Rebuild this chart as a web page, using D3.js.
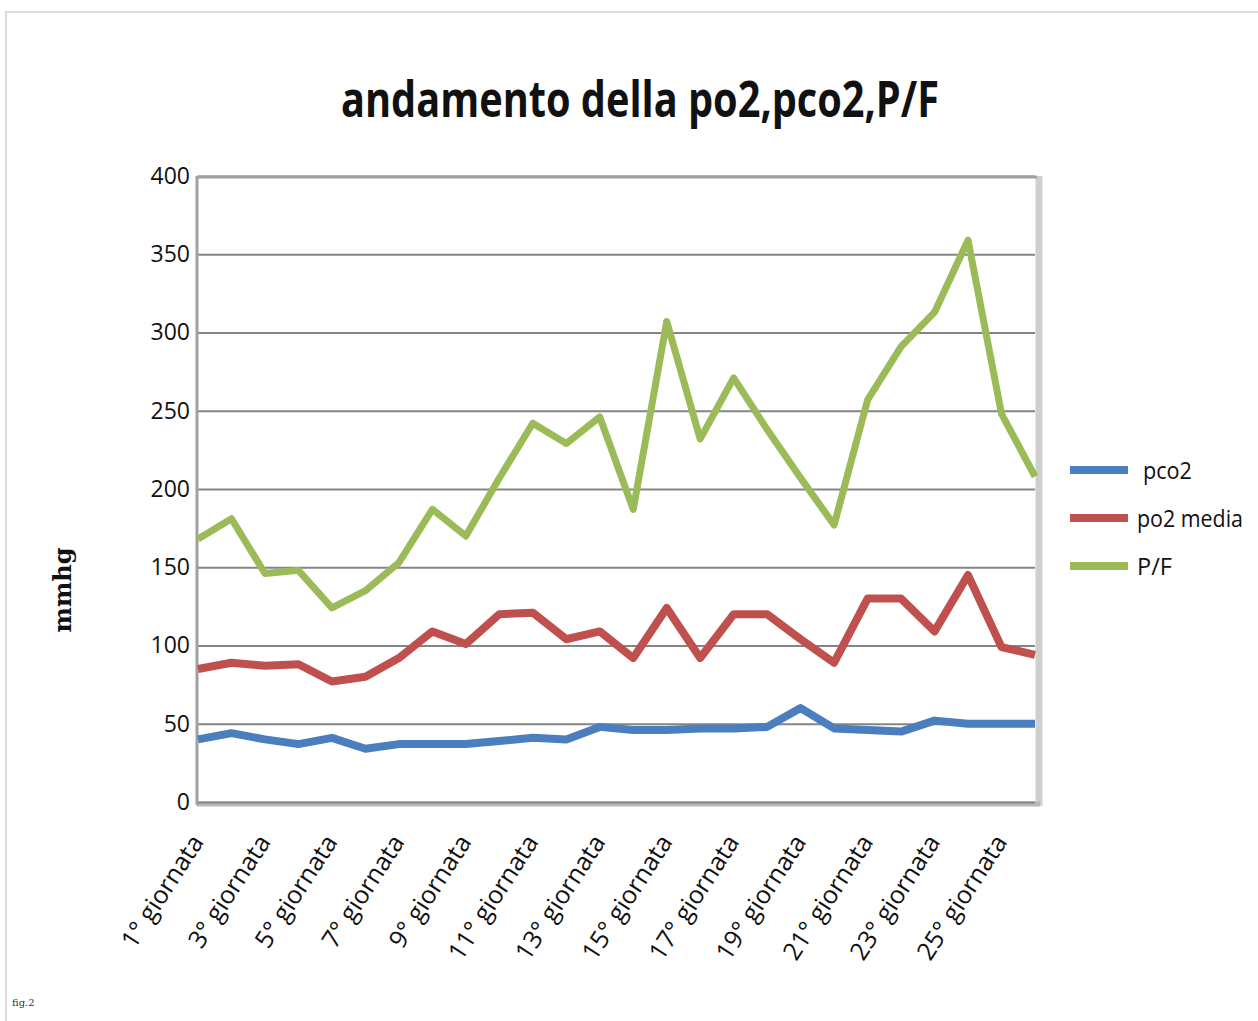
<!DOCTYPE html>
<html>
<head>
<meta charset="utf-8">
<script src="https://cdn.jsdelivr.net/npm/d3@7"></script>
<style>
  html, body { margin: 0; padding: 0; background: #fff; }
  svg { display: block; }
</style>
</head>
<body>
<svg id="chart" width="1258" height="1021"></svg>
<script>
// ---- data ----
const days = ["1° giornata","2° giornata","3° giornata","4° giornata","5° giornata","6° giornata","7° giornata","8° giornata","9° giornata","10° giornata","11° giornata","12° giornata","13° giornata","14° giornata","15° giornata","16° giornata","17° giornata","18° giornata","19° giornata","20° giornata","21° giornata","22° giornata","23° giornata","24° giornata","25° giornata","26° giornata"];
const pco2 = [40,44,40,37,41,34,37,37,37,39,41,40,48,46,46,47,47,48,60,47,46,45,52,50,50,50];
const po2media = [85,89,87,88,77,80,92,109,101,120,121,104,109,92,124,92,120,120,104,89,130,130,109,145,99,94];
const pf = [168,181,146,148,124,135,153,187,170,207,242,229,246,187,307,232,271,238,207,177,257,291,313,359,248,208];
const yTicks = [0,50,100,150,200,250,300,350,400];
const xTickLabels = ["1° giornata","3° giornata","5° giornata","7° giornata","9° giornata","11° giornata","13° giornata","15° giornata","17° giornata","19° giornata","21° giornata","23° giornata","25° giornata"];
const seriesNames = ["pco2","po2 media","P/F"];
const seriesColors = ["#4a7ebf","#c0504d","#9bbb59"];
const seriesData = [pco2, po2media, pf];

// ---- layout ----
const svg = d3.select("#chart");
const pL = 198, pR = 1035, pT = 176, pB = 802;
const x = d3.scalePoint().domain(days).range([pL, pR]);
const y = d3.scaleLinear().domain([0, 400]).range([pB, pT]);
const font = "'Open Sans', 'Liberation Sans', sans-serif";

// outer frame
svg.append("rect").attr("x", 6).attr("y", 12).attr("width", 1260).attr("height", 1020)
  .attr("fill", "none").attr("stroke", "#dcdcdc").attr("stroke-width", 2);

// title
svg.append("text").attr("x", 640).attr("y", 117).attr("text-anchor", "middle")
  .attr("font-family", font).attr("font-weight", "bold").attr("font-size", 50)
  .attr("textLength", 598).attr("lengthAdjust", "spacingAndGlyphs")
  .attr("fill", "#111").text("andamento della po2,pco2,P/F");

// plot frame (shadowed)
svg.append("line").attr("x1", pR + 4).attr("x2", pR + 4).attr("y1", pT).attr("y2", pB + 4)
  .attr("stroke", "#cfcfcf").attr("stroke-width", 7);
svg.append("line").attr("x1", pL - 1).attr("x2", pR + 5).attr("y1", pB + 2).attr("y2", pB + 2)
  .attr("stroke", "#b8b8b8").attr("stroke-width", 5);

// gridlines
const grid = svg.append("g").attr("transform", `translate(${pL},0)`)
  .call(d3.axisLeft(y).tickValues(yTicks).tickSize(-(pR - pL)).tickFormat(""));
grid.select(".domain").remove();
grid.selectAll(".tick line").attr("stroke", "#858585").attr("stroke-width", 2);

// top and left frame lines
svg.append("line").attr("x1", pL - 1).attr("x2", pR + 2).attr("y1", pT + 1).attr("y2", pT + 1)
  .attr("stroke", "#a0a0a0").attr("stroke-width", 3);
svg.append("line").attr("x1", pL - 1).attr("x2", pL - 1).attr("y1", pT).attr("y2", pB + 3)
  .attr("stroke", "#a0a0a0").attr("stroke-width", 3);

// y axis labels
const yAxis = svg.append("g").attr("transform", `translate(${pL - 8},0)`)
  .call(d3.axisLeft(y).tickValues(yTicks).tickSize(0).tickPadding(0));
yAxis.select(".domain").remove();
yAxis.selectAll("text").attr("font-family", font).attr("font-size", 23).attr("fill", "#111");

// y axis title
svg.append("text").attr("transform", "translate(71,590) rotate(-90)").attr("text-anchor", "middle")
  .attr("font-family", "'DejaVu Serif', serif").attr("font-weight", "bold").attr("font-size", 24)
  .attr("fill", "#111").text("mmhg");

// x axis labels
const xAxis = svg.append("g").attr("transform", `translate(0,${pB})`)
  .call(d3.axisBottom(x).tickValues(xTickLabels).tickSize(0).tickPadding(0));
xAxis.select(".domain").remove();
xAxis.selectAll("text")
  .attr("font-family", font).attr("font-size", 25).attr("fill", "#111")
  .attr("text-anchor", "end").attr("dy", 0)
  .attr("transform", "translate(6,40) rotate(-57)");

// series lines
const line = d3.line().x((d, i) => x(days[i])).y(d => y(d));
seriesData.forEach((s, k) => {
  svg.append("path").datum(s).attr("d", line).attr("fill", "none")
    .attr("stroke", seriesColors[k]).attr("stroke-width", k === 2 ? 7 : 8)
    .attr("stroke-linejoin", "round");
});

// legend
const legendTextX = [1143, 1137, 1137];
const legendTextLen = [49, 106, 35];
const legend = svg.append("g");
seriesNames.forEach((n, k) => {
  const ly = 470 + k * 48;
  legend.append("line").attr("x1", 1070).attr("x2", 1128).attr("y1", ly).attr("y2", ly)
    .attr("stroke", seriesColors[k]).attr("stroke-width", 8);
  legend.append("text").attr("x", legendTextX[k]).attr("y", ly + 9)
    .attr("font-family", font).attr("font-size", 23).attr("fill", "#111")
    .attr("textLength", legendTextLen[k]).attr("lengthAdjust", "spacingAndGlyphs").text(n);
});

// figure note
svg.append("text").attr("x", 12).attr("y", 1006).attr("font-family", "'DejaVu Serif', serif")
  .attr("font-size", 10).attr("fill", "#333").text("fig.2");
</script>
</body>
</html>
